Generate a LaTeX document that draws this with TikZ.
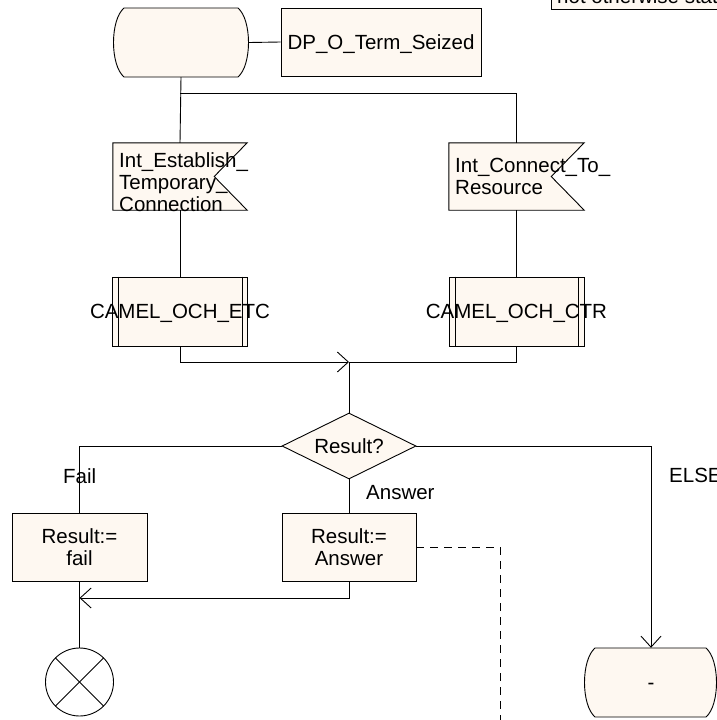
\documentclass[tikz,border=0pt]{standalone}
\usepackage{fontspec}
\setmainfont{Liberation Sans}
\usetikzlibrary{arrows.meta,shapes.geometric,calc}
\definecolor{sdlfill}{RGB}{254,248,241}
\begin{document}
\begin{tikzpicture}[x=1pt,y=-1pt,
  every node/.style={font=\fontsize{20.5}{22}\selectfont, inner sep=0pt},
  line/.style={draw=black, line width=0.9pt},
  flow/.style={line, -{Straight Barb[length=11pt,width=20pt]}},
  txt/.style={text height=14.5pt, text depth=0pt},
  frame/.style={minimum width=135pt, minimum height=68pt},
  box/.style={line, fill=sdlfill, rectangle, frame, align=center},
  dashline/.style={line, dash pattern=on 8pt off 6pt}
]
\useasboundingbox (0,0) rectangle (717,720);

% note box at the top edge
\node[line, fill=sdlfill, minimum width=220pt, minimum height=50pt, anchor=south west] (note) at (551,10) {};
\node[anchor=base west] (notetext) at (557,3) {not otherwise stated};

% start state
\filldraw[line, fill=sdlfill] (124,8) -- (238,8) .. controls (252,20) and (252,65) .. (238,77)
  -- (124,77) .. controls (110,65) and (110,20) .. (124,8) -- cycle;
\node[frame, minimum width=136pt, minimum height=69pt] (start) at (181,42.5) {};

% comment box
\node[box, txt, minimum width=200pt] (dp) at (381,42) {DP\_O\_Term\_Seized};

% input signals
\node[frame, minimum width=134pt, minimum height=67pt] (sig1) at (180,176.5) {};
\node[frame, minimum width=135pt, minimum height=67pt] (sig2) at (516.5,176.5) {};
\foreach \s in {sig1,sig2}{
  \filldraw[line, fill=sdlfill] (\s.north west) -- (\s.north east) -- ($(\s.east)+(-33,0)$)
    -- (\s.south east) -- (\s.south west) -- cycle;
}
\node[anchor=north west, align=left] (sig1text) at (119,152) {Int\_Establish\_\\Temporary\_\\Connection};
\node[anchor=north west, align=left] (sig2text) at (455,158) {Int\_Connect\_To\_\\Resource};

% procedure calls
\node[box, txt, minimum height=69pt] (proc1) at (180,311.5) {\makebox[0pt]{CAMEL\_OCH\_ETC}};
\node[box, txt, minimum height=69pt] (proc2) at (516.5,311.5) {\makebox[0pt]{CAMEL\_OCH\_CTR}};
\foreach \p in {proc1,proc2}{
  \draw[line] ($(\p.north west)+(6.5,0)$) -- ($(\p.south west)+(6.5,0)$);
  \draw[line] ($(\p.north east)+(-6,0)$) -- ($(\p.south east)+(-6,0)$);
}

% decision
\node[line, fill=sdlfill, diamond, aspect=2, minimum width=134pt, minimum height=66pt, txt] (dec) at (349,446) {\makebox[0pt]{Result?}};

% tasks
\node[box] (rfail) at (79.5,547) {Result:=\\fail};
\node[box, minimum width=134pt] (rans) at (349,547) {Result:=\\Answer};

% stop symbol and end state
\node[line, circle, minimum size=68pt] (term) at (79.5,682) {};
\draw[line] (term.north west) -- (term.south east);
\draw[line] (term.north east) -- (term.south west);

\filldraw[line, fill=sdlfill] (595,648) -- (706,648) .. controls (720,660) and (720,705) .. (706,717)
  -- (595,717) .. controls (581,705) and (581,660) .. (595,648) -- cycle;
\node[frame, minimum width=134pt, minimum height=69pt, txt] (stop) at (651,682.5) {-};

% branch labels
\node[anchor=base west] (lfail) at (63,483) {Fail};
\node[anchor=base west] (lans) at (366,499) {Answer};
\node[anchor=base west] (lelse) at (669,482) {ELSE};

% helper points
\coordinate (fork) at (180,93);
\coordinate (merge) at (349,362);
\coordinate (join) at (79.5,598);
\coordinate (dashend) at (500,730);

% connectors
\draw[line] (start.east) -- (dp.west);
\draw[line] (start.south) -- (sig1.north);
\draw[line] (fork) -| (sig2.north);
\draw[line] (sig1.south) -- (proc1.north);
\draw[line] (sig2.south) -- (proc2.north);
\draw[flow] (proc1.south) |- (merge);
\draw[line] (proc2.south) |- (merge);
\draw[line] (merge) -- (dec.north);
\draw[line] (dec.west) -| (rfail.north);
\draw[line] (dec.south) -- (rans.north);
\draw[flow] (dec.east) -| (stop.north);
\draw[flow] (rans.south) |- (join);
\draw[line] (rfail.south) -- (term.north);
\draw[dashline] (rans.east) -| (dashend);
\end{tikzpicture}
\end{document}
